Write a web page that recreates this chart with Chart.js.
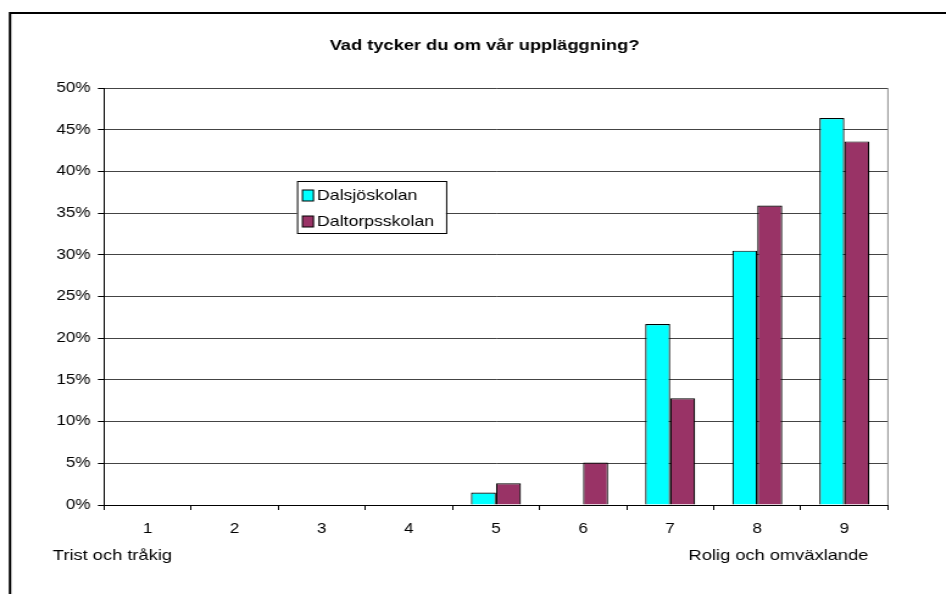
<!DOCTYPE html>
<html>
<head>
<meta charset="utf-8">
<script src="https://cdn.jsdelivr.net/npm/chart.js@4"></script>
<style>
  body { margin: 0; background: #fff; overflow: hidden; }
  /* the reference is a horizontally stretched picture, so stretch the canvas the same way */
  #chart { display: block; transform: scaleX(1.219); transform-origin: 0 0; }
</style>
</head>
<body>
<canvas id="chart" width="776" height="594"></canvas>
<script>
const categories = ['1', '2', '3', '4', '5', '6', '7', '8', '9'];
const dalsjoskolan = [0, 0, 0, 0, 1.5, 0, 21.7, 30.5, 46.4];
const daltorpsskolan = [0, 0, 0, 0, 2.6, 5.1, 12.8, 35.9, 43.6];
const seriesNames = ['Dalsjöskolan', 'Daltorpsskolan'];
const chartTitle = 'Vad tycker du om vår uppläggning?';
const lowLabel = 'Trist och tråkig';
const highLabel = 'Rolig och omväxlande';

const FONT = "'Liberation Sans', Arial, sans-serif";
Chart.defaults.font.family = FONT;
Chart.defaults.color = '#000';

// frame, title, legend box and the two end labels
const extras = {
    id: 'extras',
    afterDraw(chart) {
        const ctx = chart.ctx;
        const area = chart.chartArea;
        ctx.save();

        // outer frame (cut off at right and bottom)
        ctx.strokeStyle = '#000';
        ctx.lineWidth = 2;
        ctx.beginPath();
        ctx.moveTo(8.2, 594);
        ctx.lineTo(8.2, 13);
        ctx.lineTo(776, 13);
        ctx.stroke();

        // right border of plot area
        ctx.strokeStyle = '#888';
        ctx.lineWidth = 1;
        ctx.beginPath();
        ctx.moveTo(area.right, area.top);
        ctx.lineTo(area.right, area.bottom);
        ctx.stroke();

        // title
        ctx.fillStyle = '#000';
        ctx.font = 'bold 15px ' + FONT;
        ctx.textAlign = 'center';
        ctx.textBaseline = 'middle';
        ctx.fillText(chartTitle, 397.5, 46);

        // end labels
        ctx.font = '15px ' + FONT;
        ctx.textAlign = 'left';
        ctx.fillText(lowLabel, area.left - 42, 556);
        ctx.textAlign = 'right';
        ctx.fillText(highLabel, area.right - 16, 556);

        // legend inside the plot
        const lx = area.left + 158.3, ly = area.top + 93;
        ctx.fillStyle = '#fff';
        ctx.fillRect(lx, ly, 122.3, 52);
        ctx.strokeStyle = '#000';
        ctx.strokeRect(lx + 0.5, ly + 0.5, 122.3, 52);
        ctx.font = '14.5px ' + FONT;
        chart.data.datasets.forEach((ds, i) => {
            const y = ly + 9 + i * 26;
            ctx.fillStyle = ds.backgroundColor;
            ctx.fillRect(lx + 4.5, y, 9, 11);
            ctx.strokeStyle = '#000';
            ctx.strokeRect(lx + 4.5, y, 9, 11);
            ctx.fillStyle = '#000';
            ctx.textAlign = 'left';
            ctx.textBaseline = 'middle';
            ctx.fillText(ds.label, lx + 16.5, y + 6);
        });
        ctx.restore();
    }
};

new Chart(document.getElementById('chart'), {
    type: 'bar',
    data: {
        labels: categories,
        datasets: [{
            label: seriesNames[0],
            data: dalsjoskolan,
            backgroundColor: '#00FFFF',
            borderColor: '#000',
            borderWidth: 1.2,
            borderSkipped: 'start'
        }, {
            label: seriesNames[1],
            data: daltorpsskolan,
            backgroundColor: '#993366',
            borderColor: '#000',
            borderWidth: 1.2,
            borderSkipped: 'start'
        }]
    },
    options: {
        responsive: false,
        animation: false,
        devicePixelRatio: 1,
        categoryPercentage: 0.574,
        barPercentage: 1,
        layout: {
            padding: { top: 88, right: 47.6, bottom: 0, left: 0 }
        },
        plugins: {
            legend: { display: false },
            title: { display: false },
            tooltip: { enabled: false }
        },
        scales: {
            x: {
                afterFit(scale) { scale.height = 89; },
                grid: {
                    drawOnChartArea: false,
                    drawTicks: true,
                    tickLength: 5,
                    color: '#000'
                },
                border: { display: true, color: '#000' },
                ticks: { font: { size: 14 }, padding: 11, color: '#000' }
            },
            y: {
                min: 0,
                max: 50,
                afterFit(scale) { scale.width = 85.3; },
                grid: {
                    color: '#444',
                    tickLength: 5,
                    tickColor: '#000'
                },
                border: { display: true, color: '#000' },
                ticks: {
                    stepSize: 5,
                    font: { size: 14 },
                    padding: 6,
                    color: '#000',
                    callback: v => v + '%'
                }
            }
        }
    },
    plugins: [extras]
});
</script>
</body>
</html>
